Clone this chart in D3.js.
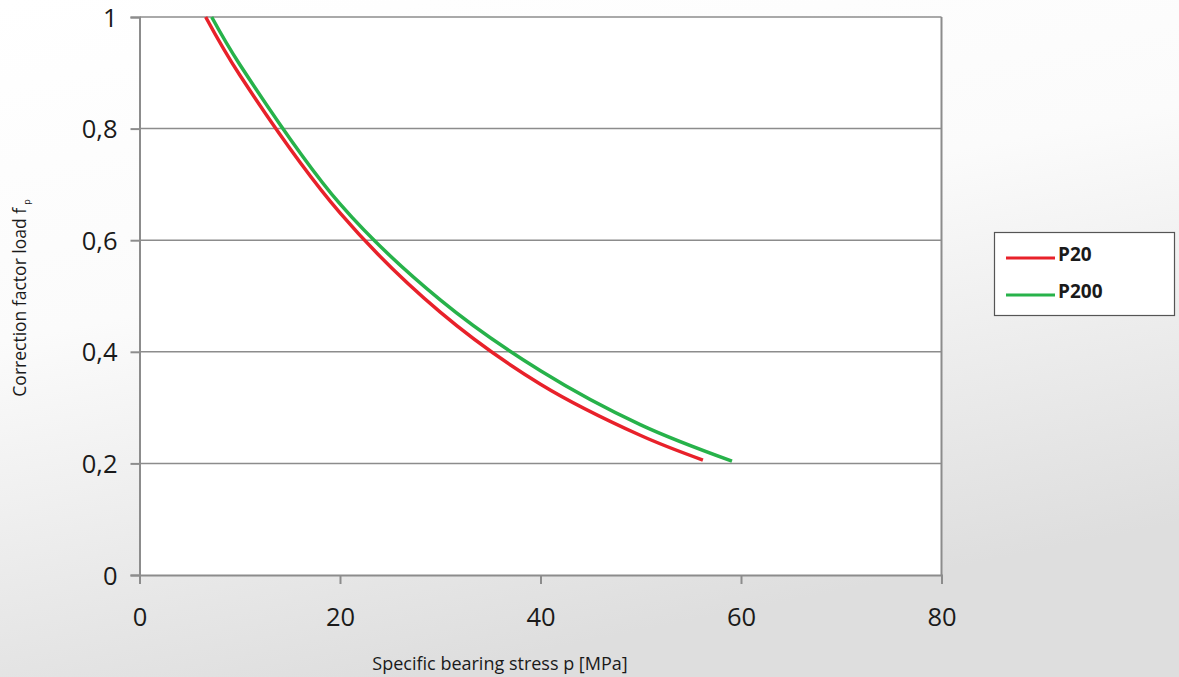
<!DOCTYPE html>
<html>
<head>
<meta charset="utf-8">
<script src="https://cdn.jsdelivr.net/npm/d3@7"></script>
<style>
  html, body { margin: 0; padding: 0; background: #fff; }
  svg { display: block; }
</style>
</head>
<body>
<svg id="chart" width="1179" height="677"></svg>
<script>
// ---- data ----
const seriesNames = ["P20", "P200"];
const p20X = [6.6, 10, 20, 30, 40, 50, 56.2];
const p20Y = [1.0, 0.896, 0.649, 0.471, 0.342, 0.250, 0.206];
const p200X = [7.2, 10, 20, 30, 40, 50, 59.1];
const p200Y = [1.0, 0.915, 0.665, 0.493, 0.366, 0.269, 0.204];
const xTicks = [0, 20, 40, 60, 80];
const yTicks = [0, 0.2, 0.4, 0.6, 0.8, 1];
const xTitle = "Specific bearing stress p [MPa]";
const yTitle = "Correction factor load f";
const yTitleSub = "p";

const colors = ["#e8212a", "#27b24a"];

const svg = d3.select("#chart");
const W = 1179, H = 677;
const m = { left: 139.5, right: 1179 - 941.5, top: 17, bottom: 677 - 575 };

// background gradient
const defs = svg.append("defs");
const grad = defs.append("linearGradient").attr("id", "bg")
  .attr("x1", "0").attr("y1", "0").attr("x2", "0.35").attr("y2", "1");
grad.append("stop").attr("offset", "0").attr("stop-color", "#ffffff");
grad.append("stop").attr("offset", "0.45").attr("stop-color", "#fbfbfb");
grad.append("stop").attr("offset", "1").attr("stop-color", "#dedede");
svg.append("rect").attr("width", W).attr("height", H).attr("fill", "url(#bg)");

const x = d3.scaleLinear().domain([0, 80]).range([m.left, W - m.right]);
const y = d3.scaleLinear().domain([0, 1]).range([H - m.bottom, m.top]);

// plot area
svg.append("rect")
  .attr("x", x(0)).attr("y", y(1))
  .attr("width", x(80) - x(0)).attr("height", y(0) - y(1))
  .attr("fill", "#ffffff");

const gridColor = "#8c8c8c";

// horizontal grid lines
svg.append("g")
  .selectAll("line").data(yTicks.filter(d => d > 0)).join("line")
  .attr("x1", x(0)).attr("x2", x(80))
  .attr("y1", d => y(d)).attr("y2", d => y(d))
  .attr("stroke", gridColor).attr("stroke-width", 1.5);

// right border
svg.append("line")
  .attr("x1", x(80)).attr("x2", x(80)).attr("y1", y(1)).attr("y2", y(0))
  .attr("stroke", gridColor).attr("stroke-width", 2);

// axes
const fmt = d => d3.format(".1f")(d).replace(/\.0$/, "").replace(".", ",");
const yAxis = d3.axisLeft(y).tickValues(yTicks).tickSize(9).tickPadding(13)
  .tickFormat(d => d === 0 || d === 1 ? String(d) : fmt(d));
const xAxis = d3.axisBottom(x).tickValues(xTicks).tickSize(9).tickPadding(24)
  .tickFormat(d3.format("d"));

const gy = svg.append("g").attr("transform", `translate(${x(0)},0)`).call(yAxis);
const gx = svg.append("g").attr("transform", `translate(0,${y(0)})`).call(xAxis);
[gx, gy].forEach(g => {
  g.select(".domain").attr("stroke", gridColor).attr("stroke-width", 2);
  g.selectAll(".tick line").attr("stroke", gridColor).attr("stroke-width", 2);
  g.selectAll(".tick text")
    .attr("fill", "#1a1a1a")
    .attr("font-family", "'Open Sans', sans-serif")
    .attr("font-size", 25.5);
});
gy.selectAll(".tick text").attr("dy", "0.36em");
gx.selectAll(".tick text").attr("dy", "0.72em");

// curves
const line = d3.line().x(d => x(d[0])).y(d => y(d[1])).curve(d3.curveCatmullRom.alpha(0.5));
const series = [d3.zip(p20X, p20Y), d3.zip(p200X, p200Y)];
svg.append("g").selectAll("path").data(series).join("path")
  .attr("d", line)
  .attr("fill", "none")
  .attr("stroke", (d, i) => colors[i])
  .attr("stroke-width", 3.5);

// axis titles
svg.append("text")
  .attr("x", 500).attr("y", 670)
  .attr("text-anchor", "middle")
  .attr("font-family", "'Open Sans', sans-serif").attr("font-size", 18)
  .attr("fill", "#1a1a1a")
  .text(xTitle);

const yt = svg.append("text")
  .attr("transform", `translate(26,${(y(0) + y(1)) / 2 + 2}) rotate(-90)`)
  .attr("text-anchor", "middle")
  .attr("font-family", "'Open Sans', sans-serif").attr("font-size", 17.5)
  .attr("fill", "#1a1a1a");
yt.append("tspan").text(yTitle);
yt.append("tspan").attr("font-size", 9).attr("dy", 4).attr("dx", 3).text(yTitleSub);

// legend
const lg = svg.append("g");
lg.append("rect").attr("x", 994.5).attr("y", 232.5).attr("width", 180).attr("height", 83)
  .attr("fill", "#ffffff").attr("stroke", "#555").attr("stroke-width", 1.2);
const items = lg.selectAll("g.item").data(seriesNames).join("g").attr("class", "item")
  .attr("transform", (d, i) => `translate(0,${258 + i * 37})`);
items.append("line").attr("x1", 1006).attr("x2", 1055).attr("y1", 0).attr("y2", 0)
  .attr("stroke", (d, i) => colors[i]).attr("stroke-width", 3);
items.append("text").attr("x", 1058).attr("y", 3)
  .attr("font-family", "'Open Sans', sans-serif").attr("font-weight", "bold")
  .attr("font-size", 19).attr("fill", "#1a1a1a")
  .text(d => d);
</script>
</body>
</html>
